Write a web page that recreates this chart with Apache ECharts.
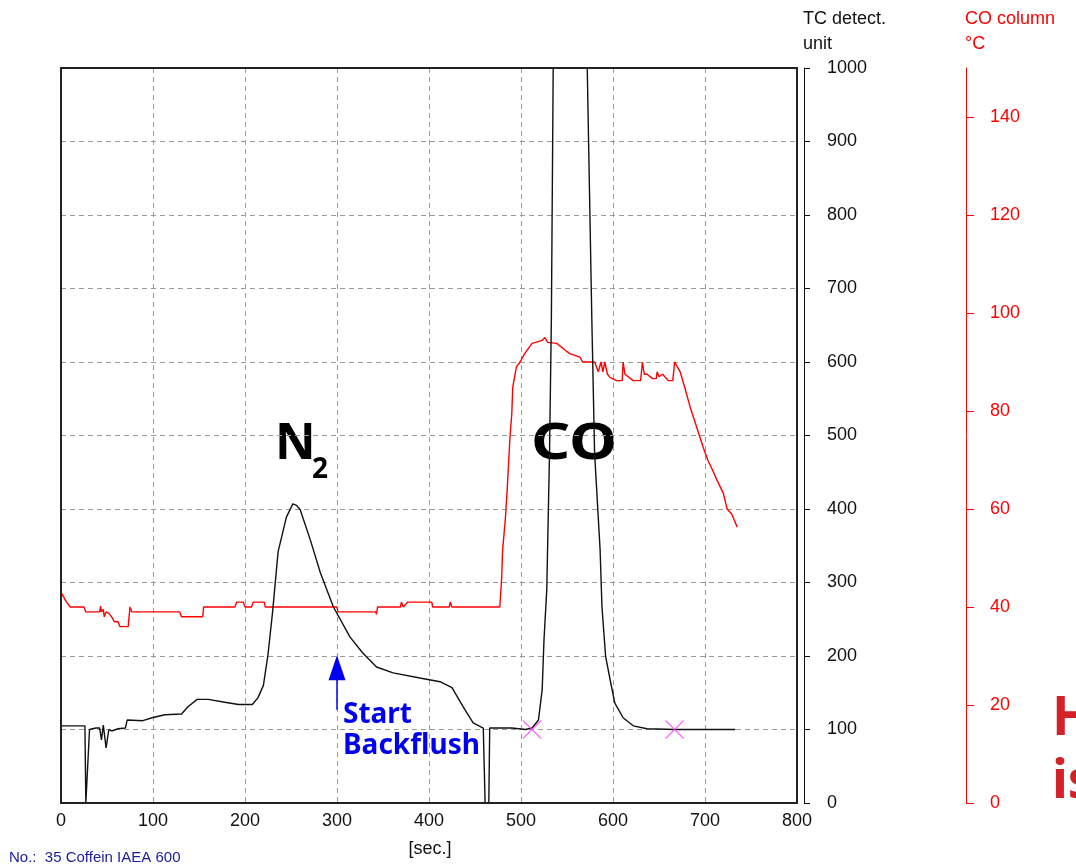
<!DOCTYPE html>
<html><head><meta charset="utf-8">
<script src="https://cdn.jsdelivr.net/npm/echarts@6/dist/echarts.min.js"></script>
<style>html,body{margin:0;padding:0;background:#fff;overflow:hidden}#c{width:1076px;height:865px}</style>
</head><body><div id="c"></div>
<script>
// TC detector signal (time in s, detector units)
const tcTime  = [0,26,27,29,31,38,42,44,46,49,52,55,62,70,72,89,99,113,131,138,148,160,178,193,208,214,220,225,230,236,245,252,256,260,271,282,296,314,328,343,361,390,412,425,437,448,459,461,465,466,490,505,512,519,523,525,528,531,533,535,553,572,577,580,586,588,592,597,602,611,622,637,667,700,733];
const tcValue = [105,105,0,0,100,102,102,86,106,75,100,98,101,102,113,112,116,120,121,131,141,141,137,134,134,143,160,202,260,342,389,407,405,399,358,313,267,226,204,185,177,170,165,157,131,109,102,0,0,102,102,100,102,113,154,222,290,476,657,1000,2600,1000,657,476,344,267,199,167,136,116,105,101,100,100,100];
// CO column temperature (time in s, °C)
const tempTime  = [0,3,6,10,25,27,42,43,44,46,47,49,52,55,58,62,64,73,75,77,129,131,154,155,189,191,198,200,207,209,221,222,300,301,342,343,344,369,370,372,377,403,404,422,423,425,477,479,480,483,485,488,490,491,495,499,504,512,523,526,529,539,548,553,564,567,580,584,587,589,591,594,597,604,610,611,613,622,630,632,634,637,643,647,648,650,654,660,665,667,670,673,678,684,691,698,703,708,713,720,724,729,735];
const tempValue = [43,42,41,40,40,39,39,40.2,39,39.5,38,39,38.7,38,37,37,36,36,40,39,39,38,38,40,40,41,41,40,40,41,41,40,40,39,39,38.5,40,40,41,40,41,41,40,40,41,40,40,46,51.6,58,64,74.6,79.5,84.8,89,90,91.7,93.8,94.4,95,94,93.8,92.4,91.7,91,90,90,88,90,88,90,87.5,86.8,86.2,86.2,90,87.5,86.2,86.2,90,87.5,87.5,86.6,86.6,88,87,87.5,86.2,86.2,90,89,88,84.8,80.7,76.7,72.6,70,68,65.9,63.2,60,59,56.3];
// integration markers
const markerTime  = [512, 667];
const markerValue = [100, 100];
// backflush arrow (time, from value, to value)
const arrowTime = 300, arrowFrom = 127, arrowTo = 184;
const tempTicks = [0,20,40,60,80,100,120,140];

const tcData = tcTime.map((t,i)=>[t, tcValue[i]]);
const tempData = tempTime.map((t,i)=>[t, tempValue[i]]);
const markerData = markerTime.map((t,i)=>[t, markerValue[i]]);

const FONT = 'Arial, sans-serif';
const BOLD = 'Noto Sans';
const chart = echarts.init(document.getElementById('c'), null, {renderer:'canvas'});
const dash = {type:[5,4], color:'#9a9a9a', width:1};
const plain = v => String(v);

chart.setOption({
  animation:false,
  backgroundColor:'#fff',
  grid:{left:61, right:279, top:68, bottom:62, show:true, borderColor:'#222', borderWidth:2, backgroundColor:'transparent', z:5},
  xAxis:{
    type:'value', min:0, max:800, interval:100,
    axisLine:{show:true, onZero:false, lineStyle:{color:'#222', width:2}},
    axisTick:{show:false},
    axisLabel:{color:'#111', fontSize:18, fontFamily:FONT, margin:9, formatter:plain},
    splitLine:{show:true, lineStyle:dash}
  },
  yAxis:[{
    type:'value', min:0, max:1000, interval:100, position:'right', offset:7,
    axisLine:{show:true, onZero:false, lineStyle:{color:'#111', width:1}},
    axisTick:{show:true, inside:false, length:6, lineStyle:{color:'#111'}},
    axisLabel:{color:'#111', fontSize:18, fontFamily:FONT, margin:23, formatter:plain},
    splitLine:{show:true, lineStyle:dash}
  },{
    type:'value', min:0, max:150, interval:10, position:'right', offset:169,
    axisLine:{show:true, onZero:false, lineStyle:{color:'#ff0000', width:1}},
    axisTick:{show:true, length:8, customValues:tempTicks, lineStyle:{color:'#ff0000'}},
    axisLabel:{color:'#ff0000', fontSize:18, fontFamily:FONT, margin:24, customValues:tempTicks, formatter:plain},
    splitLine:{show:false}
  }],
  series:[{
    type:'line', yAxisIndex:1, data:tempData, showSymbol:false, clip:true,
    lineStyle:{color:'#ff0000', width:1.4}, z:3, silent:true
  },{
    type:'line', yAxisIndex:0, data:tcData, showSymbol:false, clip:true,
    lineStyle:{color:'#111', width:1.4}, z:4, silent:true,
    markLine:{
      silent:true, symbol:['none','triangle'], symbolSize:[17,25],
      lineStyle:{color:'#0000f0', width:1.5, type:'solid'}, label:{show:false},
      data:[[{coord:[arrowTime, arrowFrom]},{coord:[arrowTime, arrowTo]}]]
    }
  },{
    type:'scatter', yAxisIndex:0, data:markerData,
    symbol:'path://M0,0L10,10M10,0L0,10', symbolSize:18,
    itemStyle:{color:'rgba(0,0,0,0)', borderColor:'#ff40ff', borderWidth:1.2}, z:6, silent:true
  }],
  graphic:[
    {type:'text', left:803, top:10, style:{text:'TC detect.', fontSize:18, fontFamily:FONT, fill:'#111'}},
    {type:'text', left:803, top:35, style:{text:'unit', fontSize:18, fontFamily:FONT, fill:'#111'}},
    {type:'text', left:965, top:10, style:{text:'CO column', fontSize:18, fontFamily:FONT, fill:'#ff0000'}},
    {type:'text', left:965, top:35, style:{text:'°C', fontSize:18, fontFamily:FONT, fill:'#ff0000'}},
    {type:'text', x:430, y:849, style:{text:'[sec.]', fontSize:18, fontFamily:FONT, fill:'#111', align:'center', verticalAlign:'middle'}},
    {type:'text', x:9, y:858, style:{text:'No.:  35 Coffein IAEA 600', fontSize:15, fontFamily:FONT, fill:'#1c1c9a', verticalAlign:'middle'}},
    {type:'text', x:275, y:445, style:{text:'N', fontSize:50, fontWeight:'bold', fontFamily:BOLD, fill:'#000', verticalAlign:'middle'}},
    {type:'text', x:312, y:470, style:{text:'2', fontSize:28, fontWeight:'bold', fontFamily:BOLD, fill:'#000', verticalAlign:'middle'}},
    {type:'text', x:531, y:444, scaleX:1.2, style:{text:'CO', fontSize:51, fontWeight:'bold', fontFamily:BOLD, fill:'#000', verticalAlign:'middle'}},
    {type:'text', x:343, y:715, style:{text:'Start', fontSize:28, fontWeight:'bold', fontFamily:BOLD, fill:'#0000f0', verticalAlign:'middle'}},
    {type:'text', x:343, y:746, style:{text:'Backflush', fontSize:28, fontWeight:'bold', fontFamily:BOLD, fill:'#0000f0', verticalAlign:'middle'}},
    {type:'text', x:1052, y:720, style:{text:'H', fontSize:53, fontWeight:'bold', fontFamily:BOLD, fill:'#d42127', verticalAlign:'middle'}},
    {type:'text', x:1052, y:783, style:{text:'is', fontSize:53, fontWeight:'bold', fontFamily:BOLD, fill:'#d42127', verticalAlign:'middle'}}
  ]
});
</script>
</body></html>
